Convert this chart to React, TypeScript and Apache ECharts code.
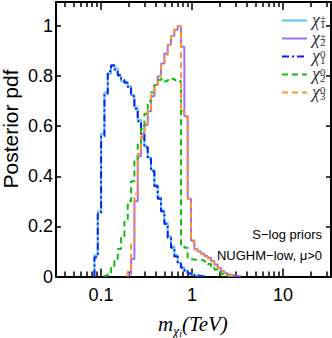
import React, { useEffect, useRef } from 'react';
import * as echarts from 'echarts';

// Histogram binning (log10 of mass in TeV)
const BIN_LOG_START = -1.0723;
const BIN_LOG_WIDTH = 0.0366;

// Series (first bin index + bin heights)
const CHI1PM_FIRST = 0;
const CHI1PM = [0.085, 0.26, 0.57, 0.735, 0.81, 0.84, 0.83, 0.8, 0.78, 0.772, 0.76, 0.725, 0.675, 0.625, 0.57, 0.52, 0.475, 0.425, 0.365, 0.315, 0.265, 0.215, 0.16, 0.12, 0.085, 0.055, 0.037, 0.024, 0.014, 0.008, 0.005, 0.003, 0.0015];
const CHI2PM_FIRST = 10;
const CHI2PM = [0.01, 0.07, 0.3, 0.48, 0.555, 0.605, 0.66, 0.72, 0.765, 0.8, 0.85, 0.89, 0.925, 0.96, 0.985, 1.0, 0.917, 0.64, 0.31, 0.144, 0.11, 0.1, 0.092, 0.082, 0.075, 0.062, 0.048, 0.035, 0.022, 0.013, 0.008, 0.005, 0.003, 0.002];
const CHI10_FIRST = 0;
const CHI10 = [0.077, 0.25, 0.56, 0.73, 0.82, 0.843, 0.825, 0.805, 0.785, 0.775, 0.757, 0.72, 0.67, 0.62, 0.565, 0.515, 0.47, 0.42, 0.36, 0.31, 0.26, 0.21, 0.155, 0.115, 0.08, 0.052, 0.035, 0.022, 0.012, 0.007, 0.004, 0.002, 0.001];
const CHI20_FIRST = 3;
const CHI20 = [0.003, 0.01, 0.04, 0.07, 0.11, 0.16, 0.22, 0.3, 0.38, 0.46, 0.53, 0.59, 0.65, 0.7, 0.735, 0.765, 0.785, 0.79, 0.78, 0.785, 0.79, 0.785, 0.78, 0.12, 0.115, 0.07, 0.068, 0.067, 0.066, 0.064, 0.06, 0.05, 0.04, 0.028, 0.018, 0.01, 0.005, 0.002];
const CHI30_FIRST = 10;
const CHI30 = [0.02, 0.13, 0.33, 0.49, 0.56, 0.61, 0.665, 0.725, 0.765, 0.8, 0.845, 0.885, 0.925, 0.96, 0.985, 1.0, 0.66, 0.635, 0.31, 0.14, 0.108, 0.098, 0.09, 0.08, 0.072, 0.06, 0.046, 0.033, 0.02, 0.012, 0.006, 0.003];

const SERIES_NAMES = ['chi1pm', 'chi2pm', 'chi10', 'chi20', 'chi30'];
const LEGEND_LABELS: Record<string, string> = {
  chi1pm: '{c|χ}{sp|±}{sb|1}',
  chi2pm: '{c|χ}{sp|±}{sb|2}',
  chi10: '{c|χ}{sp|0}{sb|1}',
  chi20: '{c|χ}{sp|0}{sb|2}',
  chi30: '{c|χ}{sp|0}{sb|3}',
};

// Axes
const X_MIN_TEV = 0.03201;
const X_MAX_TEV = 33.7;
const X_MAJOR_TICKS = [0.1, 1, 10];
const X_MAJOR_LABELS = ['0.1', '1', '10'];
const X_MINOR_TICKS = [0.04, 0.05, 0.06, 0.07, 0.08, 0.09, 0.2, 0.3, 0.4, 0.5, 0.6, 0.7, 0.8, 0.9, 2, 3, 4, 5, 6, 7, 8, 9, 20, 30];
const Y_MAX = 1.096;
const Y_TICKS = [0, 0.2, 0.4, 0.6, 0.8, 1];
const Y_LABELS = ['0', '0.2', '0.4', '0.6', '0.8', '1'];

const ANNOT_1 = 'S−log priors';
const ANNOT_2 = 'NUGHM−low, μ>0';

function histPoints(first: number, vals: number[]) {
  const pts: number[][] = [[BIN_LOG_START + first * BIN_LOG_WIDTH, 0]];
  vals.forEach((v, i) => pts.push([BIN_LOG_START + (first + i) * BIN_LOG_WIDTH, v]));
  pts.push([BIN_LOG_START + (first + vals.length) * BIN_LOG_WIDTH, 0]);
  return pts;
}

const nearestLabel = (vals: number[], labels: string[], v: number) => {
  let bi = 0;
  vals.forEach((t, i) => { if (Math.abs(t - v) < Math.abs(vals[bi] - v)) bi = i; });
  return labels[bi];
};

export default function App() {
  const ref = useRef<HTMLDivElement>(null);
  useEffect(() => {
    if (!ref.current) return;
    const chart = echarts.init(ref.current, undefined, { renderer: 'svg' });
    const lg = (a: number[]) => a.map((v) => Math.log10(v));
    const xMin = Math.log10(X_MIN_TEV);
    const xMax = Math.log10(X_MAX_TEV);
    const majorLog = lg(X_MAJOR_TICKS);
    const minorLog = lg(X_MINOR_TICKS);
    const black = '#000';
    const baseX = (position: string, ticks: number[], len: number, showLine: boolean, showLabel: boolean) => ({
      type: 'value', position, min: xMin, max: xMax,
      axisLine: { show: showLine, onZero: false, lineStyle: { color: black, width: 2 } },
      axisTick: { show: true, inside: true, length: len, customValues: ticks, lineStyle: { color: black, width: 1.5 } },
      axisLabel: {
        show: showLabel, customValues: majorLog, margin: 9, color: black, fontSize: 18,
        fontFamily: 'Liberation Sans, Arial, sans-serif',
        formatter: (v: number) => nearestLabel(majorLog, X_MAJOR_LABELS, v),
      },
      splitLine: { show: false },
    });
    const baseY = (position: string, showLabel: boolean) => ({
      type: 'value', position, min: 0, max: Y_MAX,
      axisLine: { show: true, onZero: false, lineStyle: { color: black, width: 2 } },
      axisTick: { show: true, inside: true, length: 5, customValues: Y_TICKS, lineStyle: { color: black, width: 1.5 } },
      axisLabel: {
        show: showLabel, customValues: Y_TICKS, margin: 3, color: black, fontSize: 18,
        fontFamily: 'Liberation Sans, Arial, sans-serif',
        formatter: (v: number) => nearestLabel(Y_TICKS, Y_LABELS, v),
      },
      splitLine: { show: false },
    });
    const mk = (name: string, first: number, vals: number[], color: string, type: any, z: number) => ({
      type: 'line', name, data: histPoints(first, vals), step: 'end', symbol: 'none',
      xAxisIndex: 0, yAxisIndex: 0, z,
      lineStyle: { color, width: 2, type }, itemStyle: { color },
    });
    const serif = 'Liberation Serif, Times New Roman, serif';
    const legendTxt = '#333';
    chart.setOption({
      animation: false,
      grid: { left: 56, right: 1, top: 2, bottom: 61.5, containLabel: false },
      xAxis: [
        baseX('bottom', majorLog, 8, true, true),
        baseX('bottom', minorLog, 5, false, false),
        baseX('top', majorLog, 8, true, false),
        baseX('top', minorLog, 5, false, false),
      ],
      yAxis: [baseY('left', true), baseY('right', false)],
      legend: {
        orient: 'vertical', left: 276, top: 6, itemWidth: 25, itemHeight: 1, itemGap: 0,
        data: SERIES_NAMES,
        itemStyle: { opacity: 0 },
        formatter: (n: string) => LEGEND_LABELS[n],
        textStyle: {
          color: legendTxt,
          rich: {
            c: { fontFamily: serif, fontStyle: 'italic', fontSize: 18, lineHeight: 17, verticalAlign: 'bottom', color: legendTxt },
            sp: { fontFamily: serif, fontSize: 11, lineHeight: 10, width: 0, verticalAlign: 'top', color: legendTxt },
            sb: { fontFamily: serif, fontSize: 11, lineHeight: 10, verticalAlign: 'bottom', color: legendTxt },
          },
        },
      },
      graphic: [
        { type: 'text', right: 10, top: 228, style: { text: ANNOT_1, font: '13px "Liberation Sans", Arial, sans-serif', fill: '#000' } },
        { type: 'text', right: 10, top: 249, style: { text: ANNOT_2, font: '13px "Liberation Sans", Arial, sans-serif', fill: '#000' } },
        {
          type: 'text', x: 21, y: 129, rotation: Math.PI / 2,
          style: { text: 'Posterior pdf', font: '21px "Liberation Sans", Arial, sans-serif', fill: '#000', align: 'center', verticalAlign: 'bottom' },
        },
        {
          type: 'text', x: 193, y: 313,
          style: {
            text: '{m|m}{s|χ}{i|i}{t|(TeV)}{z| }', align: 'center', verticalAlign: 'top',
            rich: {
              m: { fontFamily: serif, fontStyle: 'italic', fontSize: 21, lineHeight: 21, verticalAlign: 'top', fill: '#000' },
              s: { fontFamily: serif, fontStyle: 'italic', fontSize: 14, lineHeight: 14, verticalAlign: 'bottom', fill: '#000' },
              i: { fontFamily: serif, fontStyle: 'italic', fontSize: 10, lineHeight: 10, verticalAlign: 'bottom', fill: '#000' },
              t: { fontFamily: serif, fontStyle: 'italic', fontSize: 21, lineHeight: 21, verticalAlign: 'top', fill: '#000' },
              z: { fontSize: 1, lineHeight: 25, verticalAlign: 'top' },
            },
          },
        },
      ],
      series: [
        mk('chi1pm', CHI1PM_FIRST, CHI1PM, '#5cc4f5', 'solid', 2),
        mk('chi2pm', CHI2PM_FIRST, CHI2PM, '#9f6ff5', 'solid', 3),
        mk('chi10', CHI10_FIRST, CHI10, '#1020f0', [7, 3, 2, 3], 4),
        mk('chi20', CHI20_FIRST, CHI20, '#10c010', [6, 4], 5),
        mk('chi30', CHI30_FIRST, CHI30, '#ff9430', [6, 4], 6),
      ],
    });
    return () => chart.dispose();
  }, []);
  return <div ref={ref} style={{ position: 'absolute', left: 0, top: 0, width: 332, height: 338 }} />;
}
